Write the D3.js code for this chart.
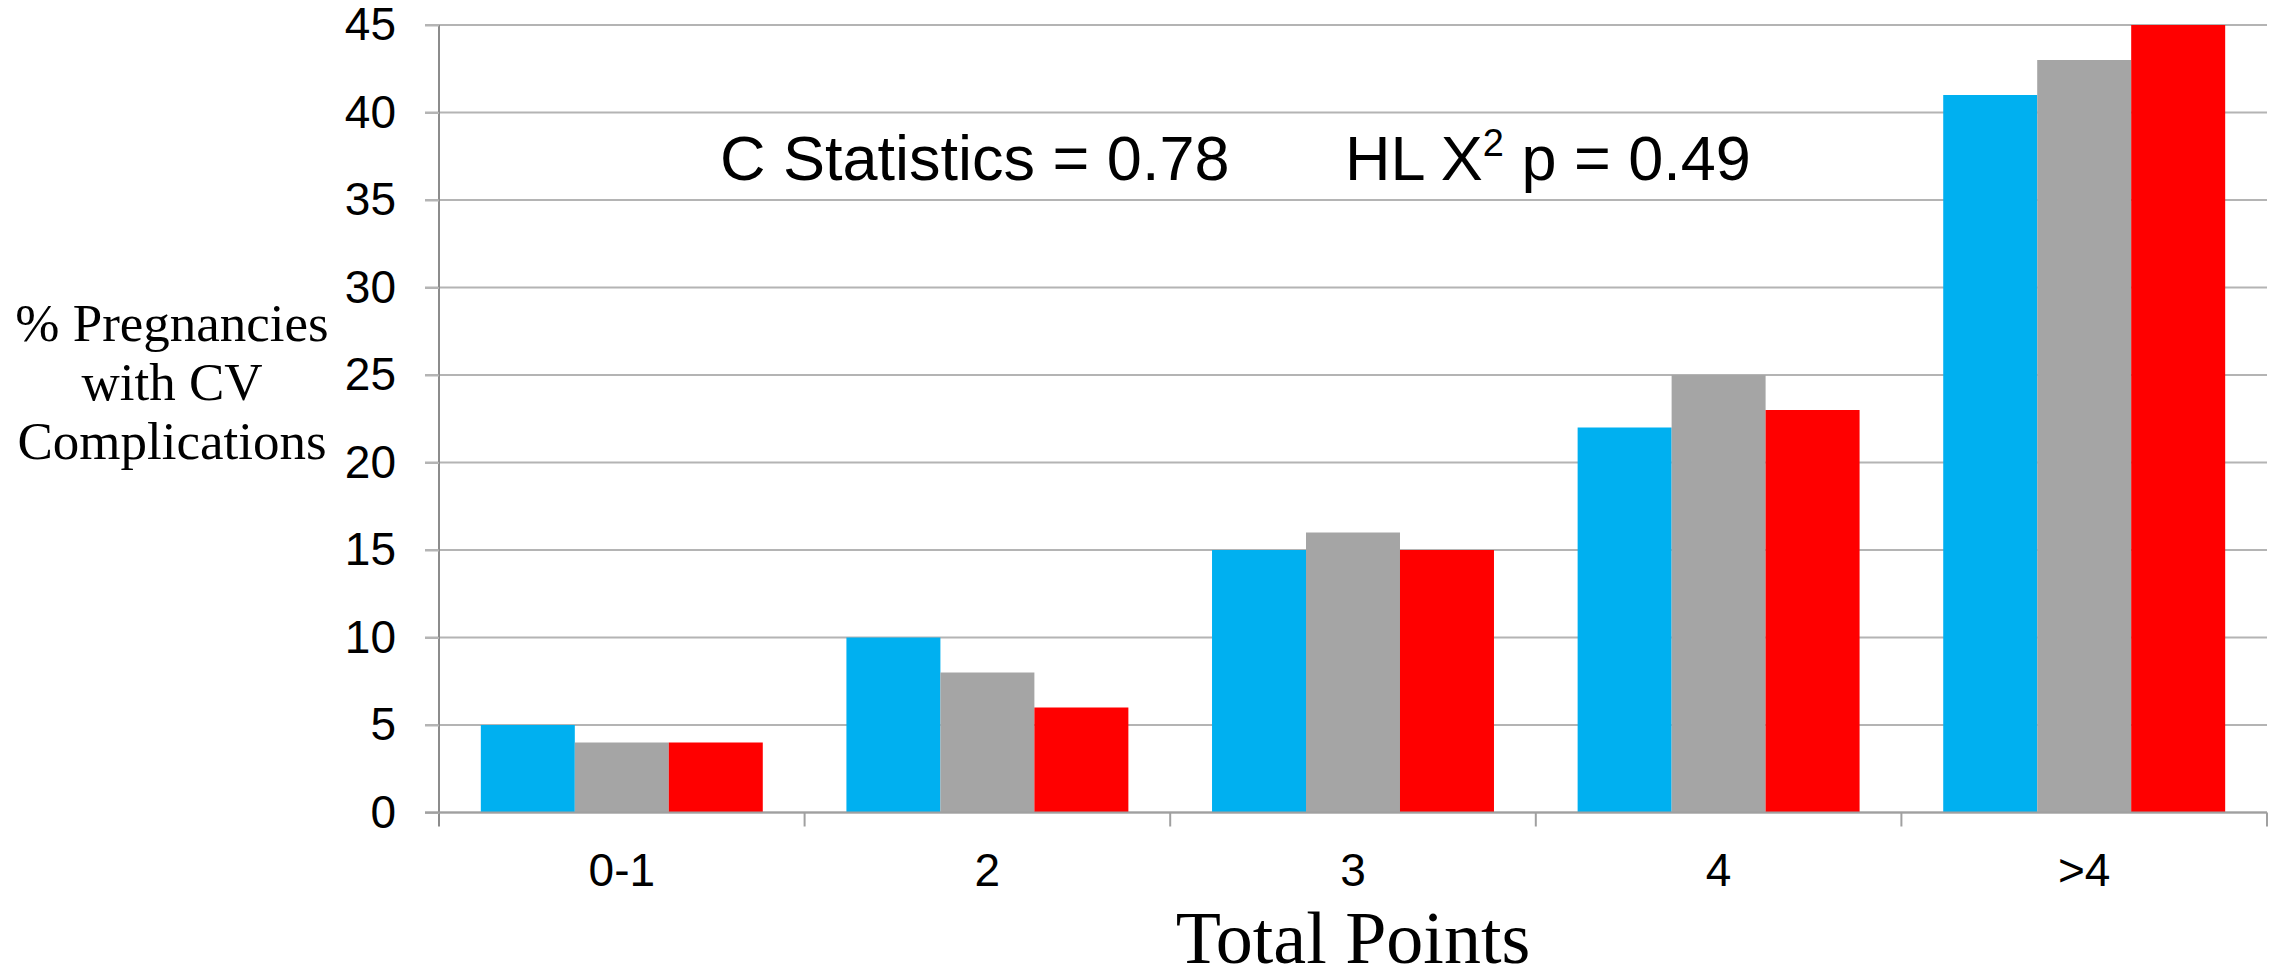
<!DOCTYPE html>
<html>
<head>
<meta charset="utf-8">
<script src="https://cdn.jsdelivr.net/npm/d3@7"></script>
<style>
  body { margin: 0; background: #fff; }
</style>
</head>
<body>
<script>
// chart data
var categories = ["0-1", "2", "3", "4", ">4"];
var seriesNames = ["Series 1", "Series 2", "Series 3"];
var series1 = [5, 10, 15, 22, 41];
var series2 = [4, 8, 16, 25, 43];
var series3 = [4, 6, 15, 23, 45];
var yTicks = [0, 5, 10, 15, 20, 25, 30, 35, 40, 45];
var colors = ["#00B0F0", "#A5A5A5", "#FF0000"];

var svgWidth = 2272;
var svgHeight = 980;

var chartMargin = { top: 25, right: 5, bottom: 167.5, left: 439 };
var chartWidth = svgWidth - chartMargin.left - chartMargin.right;
var chartHeight = svgHeight - chartMargin.top - chartMargin.bottom;

var svg = d3.select("body")
  .append("svg")
  .attr("width", svgWidth)
  .attr("height", svgHeight);

var chartGroup = svg.append("g")
  .attr("transform", `translate(${chartMargin.left}, ${chartMargin.top})`);

// build rows from the arrays
var rows = categories.map(function(c, i) {
  return { category: c, values: [series1[i], series2[i], series3[i]] };
});

var yScale = d3.scaleLinear()
  .domain([0, 45])
  .range([chartHeight, 0]);

var xScale = d3.scaleBand()
  .domain(categories)
  .range([0, chartWidth])
  .padding(0);

var xInner = d3.scaleBand()
  .domain(seriesNames)
  .range([0, xScale.bandwidth()])
  .paddingInner(0)
  .paddingOuter(0.445);

// gridlines
chartGroup.append("g")
  .selectAll("line")
  .data(yTicks)
  .enter()
  .append("line")
  .attr("x1", -14)
  .attr("x2", chartWidth)
  .attr("y1", d => yScale(d))
  .attr("y2", d => yScale(d))
  .attr("stroke", "#B4B4B4")
  .attr("stroke-width", 2);

// bars
var groups = chartGroup.selectAll(".cat")
  .data(rows)
  .enter()
  .append("g")
  .attr("class", "cat")
  .attr("transform", d => `translate(${xScale(d.category)},0)`);

groups.selectAll("rect")
  .data(d => d.values.map((v, j) => ({ name: seriesNames[j], value: v, color: colors[j] })))
  .enter()
  .append("rect")
  .attr("x", d => xInner(d.name))
  .attr("width", xInner.bandwidth())
  .attr("y", d => yScale(d.value))
  .attr("height", d => chartHeight - yScale(d.value))
  .attr("fill", d => d.color);

// y axis
var yAxis = d3.axisLeft(yScale)
  .tickValues(yTicks)
  .tickSize(14)
  .tickPadding(29);

var yG = chartGroup.append("g").call(yAxis);
yG.select(".domain").attr("stroke", "#8C8C8C").attr("stroke-width", 2)
  .attr("d", `M0,0V${chartHeight + 14}`);
yG.selectAll(".tick line").attr("stroke", "#B4B4B4").attr("stroke-width", 2);
yG.selectAll("text")
  .attr("font-family", "'Liberation Sans', Arial, sans-serif")
  .attr("font-size", 46)
  .attr("fill", "#000");

// x axis: line + ticks at band edges
var xG = chartGroup.append("g")
  .attr("transform", `translate(0,${chartHeight})`);

xG.append("line")
  .attr("x1", -14)
  .attr("x2", chartWidth)
  .attr("stroke", "#A0A0A0")
  .attr("stroke-width", 2);

var edges = categories.map(c => xScale(c)).concat([chartWidth]);
xG.selectAll(".edge")
  .data(edges.slice(1))
  .enter()
  .append("line")
  .attr("class", "edge")
  .attr("x1", d => d)
  .attr("x2", d => d)
  .attr("y1", 0)
  .attr("y2", 14)
  .attr("stroke", "#A0A0A0")
  .attr("stroke-width", 2);

xG.selectAll(".xlabel")
  .data(categories)
  .enter()
  .append("text")
  .attr("class", "xlabel")
  .attr("x", d => xScale(d) + xScale.bandwidth() / 2)
  .attr("y", 73.5)
  .attr("text-anchor", "middle")
  .attr("font-family", "'Liberation Sans', Arial, sans-serif")
  .attr("font-size", 46)
  .text(d => d);

// axis titles
svg.append("text")
  .attr("x", chartMargin.left + chartWidth / 2)
  .attr("y", 963)
  .attr("text-anchor", "middle")
  .attr("font-family", "'Liberation Serif', 'Times New Roman', serif")
  .attr("font-size", 74)
  .text("Total Points");

var yTitle = svg.append("text")
  .attr("text-anchor", "middle")
  .attr("font-family", "'Liberation Serif', 'Times New Roman', serif")
  .attr("font-size", 53);

["% Pregnancies", "with CV", "Complications"].forEach(function(line, i) {
  yTitle.append("tspan")
    .attr("x", 172)
    .attr("y", 341 + i * 59)
    .text(line);
});

// annotation
svg.append("text")
  .attr("x", 720)
  .attr("y", 180)
  .attr("font-family", "'Liberation Sans', Arial, sans-serif")
  .attr("font-size", 63)
  .text("C Statistics = 0.78");

var hl = svg.append("text")
  .attr("x", 1345)
  .attr("y", 180)
  .attr("font-family", "'Liberation Sans', Arial, sans-serif")
  .attr("font-size", 63);
hl.append("tspan").text("HL X");
hl.append("tspan").attr("font-size", 38).attr("dy", -24).text("2");
hl.append("tspan").attr("dy", 24).text(" p = 0.49");
</script>
</body>
</html>
